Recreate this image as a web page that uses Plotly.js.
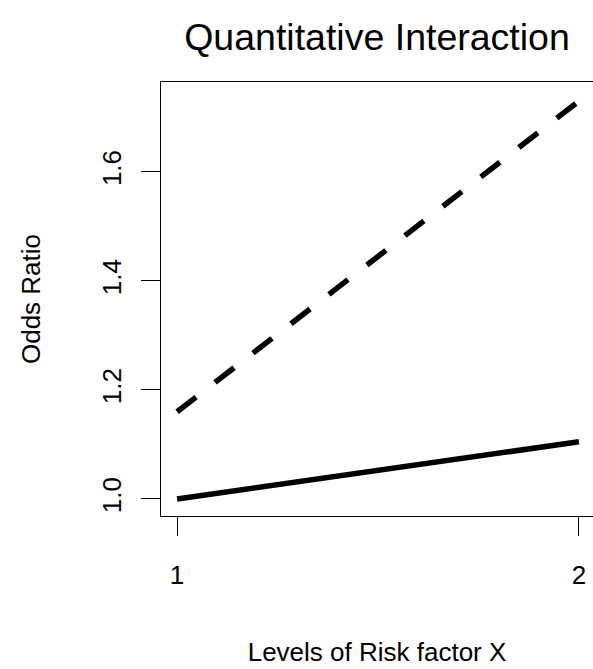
<!DOCTYPE html>
<html>
<head>
<meta charset="utf-8">
<script src="https://cdn.plot.ly/plotly-3.0.1.min.js"></script>
<style>html,body{margin:0;padding:0;background:#fff;}</style>
</head>
<body>
<div id="chart" style="width:593px;height:669px;"></div>
<script>
// Data
const levels = [1, 2];
const solidOR = [1.0, 1.105];
const dashedOR = [1.16, 1.73];
const xTickVals = [1, 2];
const xTickText = ["1", "2"];
const yTickVals = [1.0, 1.2, 1.4, 1.6];
const yTickText = ["1.0", "1.2", "1.4", "1.6"];

const FONT = "Liberation Sans, Arial, Helvetica, sans-serif";

const traces = [
  {x: levels, y: solidOR, type: "scatter", mode: "lines", name: "solid",
   line: {color: "#000", width: 5.5, dash: "solid"}, showlegend: false, hoverinfo: "skip"},
  {x: levels, y: dashedOR, type: "scatter", mode: "lines", name: "dashed",
   line: {color: "#000", width: 5.5, dash: "24px,24px"}, showlegend: false, hoverinfo: "skip"}
];

const layout = {
  width: 593, height: 669,
  margin: {l: 161, r: 0, t: 82, b: 153},
  paper_bgcolor: "#fff", plot_bgcolor: "#fff",
  font: {family: FONT, color: "#000", size: 26},
  title: {text: "Quantitative Interaction", font: {family: FONT, size: 37.5, color: "#000"},
          xref: "paper", x: 0.5, xanchor: "center", yref: "container", y: 1 - 37/669, yanchor: "middle"},
  xaxis: {
    range: [0.96, 2.035], tickvals: xTickVals, ticktext: xTickText,
    ticks: "outside", ticklen: 19, tickwidth: 1, tickcolor: "#000",
    showline: true, linecolor: "#000", linewidth: 1, mirror: true,
    showgrid: false, zeroline: false, tickfont: {size: 26},
    ticklabelstandoff: 17,
    title: {text: "Levels of Risk factor X", font: {size: 26}, standoff: 53},
    automargin: false
  },
  yaxis: {
    range: [0.9688, 1.765], tickvals: yTickVals, ticktext: yTickText,
    ticks: "outside", ticklen: 19, tickwidth: 1, tickcolor: "#000",
    showline: true, linecolor: "#000", linewidth: 1,
    showgrid: false, zeroline: false, tickfont: {size: 26}, tickangle: -90,
    ticklabelstandoff: 10,
    title: {text: "Odds Ratio", font: {size: 26}, standoff: 48},
    automargin: false
  }
};

Plotly.newPlot("chart", traces, layout, {staticPlot: true, displayModeBar: false});
</script>
</body>
</html>
